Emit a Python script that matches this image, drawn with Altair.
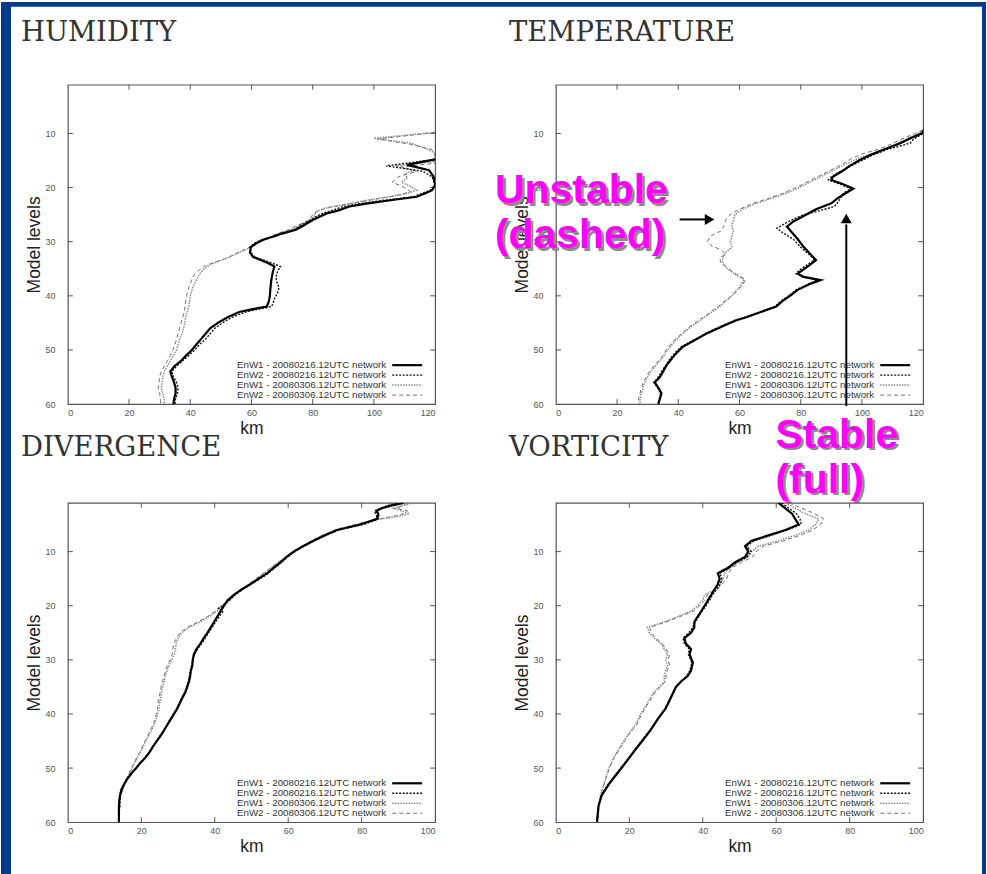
import altair as alt
import pandas as pd

# ---------------- data ----------------
SERIES = ["EnW1 - 20080216.12UTC network", "EnW2 - 20080216.12UTC network",
          "EnW1 - 20080306.12UTC network", "EnW2 - 20080306.12UTC network"]
TITLES = ["HUMIDITY", "TEMPERATURE", "DIVERGENCE", "VORTICITY"]
X_MAX = [120, 120, 100, 100]
X_TICKS_120 = [0, 20, 40, 60, 80, 100, 120]
X_TICKS_100 = [0, 20, 40, 60, 80, 100]
Y_TICKS = [10, 20, 30, 40, 50, 60]

# (model level, km)
HUM_W1_0216 = [(14.8,120),(15.8,110.8),(16.8,118),(18,119.5),(19.5,120),(20.5,119),(21,117),(21.7,114),(22.3,106),(23,97),(23.5,92),(24.3,88),(24.8,84.5),(26,80),(27,77),(27.8,74.5),(28.5,70),(29,67.5),(29.6,64),(30.3,61.5),(31,59.8),(32,59.5),(32.8,60.5),(33.4,63),(34,65.5),(34.6,67.5),(35.5,67),(37,66.5),(38.5,66.2),(40,66),(41,65.7),(42,65),(42.5,60),(43,56),(44,52),(45,49),(46,46.5),(47,45),(48,43.5),(49,42),(50,40.5),(51,38.7),(52,37),(53,34.8),(54,33.5),(55,34),(56,34.7),(57,35.2),(58,35.2),(59,34.7),(60,34.5)]
HUM_W2_0216 = [(14.8,120),(16,104),(17,116),(18,119),(19.5,120),(20.5,118.5),(21,116),(21.7,113),(22.3,104),(23,95),(23.5,90),(24.3,86),(24.8,83),(26,79),(27,76),(27.8,74),(28.5,69.5),(29,67),(29.6,63.5),(30.3,61),(31,59.5),(32,59.8),(32.8,61),(33.4,64),(34,67),(34.6,69.5),(35.5,68.5),(36.5,68),(37.5,68.3),(38.5,69),(39.5,68.5),(40.5,67.5),(41.5,67),(42,66.5),(42.5,62),(43,58),(44,53.5),(45,50.5),(46,48),(47,46.5),(48,45),(49,43),(50,41.5),(51,39.5),(52,37.5),(53,35.5),(54,34),(55,34.5),(56,35.5),(57,36),(58,35.8),(59,35.2),(60,35)]
HUM_W1_0306 = [(9.8,120),(10.9,100),(11.8,112),(12.8,117),(13.6,120),(15.2,120),(16,107),(16.8,113),(17.5,110),(18.2,111),(19,109),(19.8,112),(20.5,114),(21.2,110),(21.8,104),(22.5,96),(23.2,90),(23.8,84),(24.5,81),(25.2,80.5),(26,80),(27,76),(27.8,73),(28.5,69),(29.2,66),(30,63),(30.8,60.5),(31.5,58),(32,56),(32.8,53),(33.5,50),(34.2,46.5),(35,44.5),(36,43),(37,42),(38,41.2),(39,40.5),(40,40),(41,39.8),(42,39.5),(43,39),(44,38.5),(45,38.2),(46,37.8),(47,37.3),(48,36.5),(49,36),(50,35.5),(51,34.5),(52,33.5),(53,32.5),(54,31.5),(55,31),(56,30.8),(57,30.5),(58,31),(59,31.5),(60,31.5)]
HUM_W2_0306 = [(9.8,120),(10.6,108),(11,101),(12,112),(13,119),(14.2,120),(15.5,120),(16.2,109),(17,114),(18,108),(19,106),(20,110),(20.8,112),(21.5,107),(22.2,100),(23,92),(23.6,86),(24.2,82),(25,80),(26,79),(27,75),(27.8,72),(28.6,68),(29.4,65),(30.2,62),(31,59.5),(31.6,57),(32.2,55),(33,52),(33.7,48.5),(34.4,45),(35.2,43),(36,41.5),(37,40.5),(38,39.8),(39,39.2),(40,38.8),(41,38.5),(42,38.3),(43,38),(44,37.5),(45,37),(46,36.5),(47,36),(48,35.5),(49,35),(50,34.3),(51,33.5),(52,32.5),(53,31.5),(54,30.5),(55,30),(56,29.8),(57,29.5),(58,30),(59,30.2),(60,30.3)]

TMP_W1_0216 = [(9.5,120),(10,119.5),(11,115.5),(11.8,112.5),(13,107),(14,102.7),(15,99),(16,96),(17,93.5),(18,90.5),(18.6,90),(19.3,93.5),(20.2,97.2),(21.1,94.5),(22,92),(22.9,90),(24,85),(25.4,80.5),(26.3,77.5),(27.2,75.5),(28.2,77),(29.5,79),(31,81),(32.5,83.5),(33.4,85),(34.3,83),(35.3,80.5),(35.9,79),(36.5,81),(37.1,86.5),(37.7,83.5),(38.9,79),(40,76.5),(41,74),(42,72),(43,67),(44,62),(44.5,59),(45.5,55),(46.9,49.5),(48,46),(49.4,41.5),(50.5,39.5),(51.5,38),(52.8,36.2),(54,35),(55,34),(56,32.3),(57,33.5),(58,34.5),(59,34),(60,33.5)]
TMP_W2_0216 = [(9.5,120),(10,120),(11,117),(11.8,115.8),(13,108),(14,103.5),(15,100),(16,96.5),(17,93),(18,90),(18.6,89),(19.3,92.5),(20.2,96.5),(21,94),(22,93),(22.8,92),(23.5,91),(24.3,86),(25.2,80),(26.3,76),(27.5,72.2),(28.3,74),(29.5,77.5),(31,80),(32.5,83),(33.4,84.5),(34.3,82),(35.3,79.5),(35.9,78.5),(36.5,80.5),(37.1,85.5),(37.7,83),(38.9,78.5),(40,76),(41,73.5),(42,71.5),(43,66.5),(44,61.5),(44.5,58.5),(45.5,54.5),(46.9,49),(48,45.5),(49.4,41),(50.5,39),(51.5,37.5),(52.8,36),(54,34.5),(55,33.5),(56,32),(57,33.3),(58,34.2),(59,33.8),(60,33.3)]
TMP_W1_0306 = [(9.3,120),(10,118.5),(11,114.5),(12,111),(13,107),(13.8,103),(14.5,99),(15.2,96.5),(16,93.5),(17,90),(18,86.5),(19,83),(20,79.5),(21,75.5),(22,70.5),(23,65),(24,61),(25,58.5),(26,58),(27,57.5),(28,58),(29,57.5),(30,57),(31,57.5),(32,55.5),(33,54.5),(34,54.5),(35,56),(36,58.5),(37,61.5),(38,60.5),(39,59),(40,57.5),(41,55.5),(42,53.5),(43,51),(44,48.5),(45,46),(46,43.5),(47,41.5),(48,39.5),(49,38),(50,36.5),(51,35.5),(52,34),(53,32.5),(54,31),(55,30),(56,29),(57,28.5),(58,28),(59,27.5),(60,27.5)]
TMP_W2_0306 = [(9.3,120),(10,117.5),(11,113),(12,109.5),(13,105),(13.8,100),(14.5,97),(15.2,95),(16,92.5),(17,89),(18,85.5),(19,82),(20,78.5),(21,74.5),(22,69.5),(23,64),(24,60),(25,57),(26,55.5),(27,55),(28,54),(29,50.5),(30,49.5),(30.8,51),(31.5,54),(32.3,55.5),(33,53.5),(34,54),(35,56.5),(36,59),(37,62),(38,61),(39,59.5),(40,57.5),(41,55),(42,53),(43,50.5),(44,48),(45,45.5),(46,43),(47,41),(48,39),(49,37.5),(50,36),(51,35),(52,33.5),(53,32),(54,30.5),(55,29.5),(56,28.5),(57,28),(58,27.5),(59,27),(60,27)]

DIV_W1_0216 = [(1,91.4),(1.5,88),(2,85.5),(2.5,84),(3,84.5),(3.5,84.5),(4,84),(5,79.6),(6,73.3),(7,70),(8,66.9),(9,64),(10,61.5),(11,59.5),(12,57.9),(13,56),(14,54.3),(15,52),(16,49.7),(17,47.3),(18,45.2),(19,43.5),(20,42.5),(21,41.6),(22,40.7),(23,39.8),(24,38.9),(25,38),(26,37),(27,36.1),(28,35),(29,34.3),(30,34),(31,33.9),(32,33.5),(33,33.3),(34,33),(35,32.5),(36,32),(37,31.2),(38,30.5),(39,29.8),(40,28.9),(41,28),(42,27.1),(43,26.2),(44,25.3),(45,24.2),(46,23.2),(47,22.3),(48,21.2),(49,19.8),(50,18.6),(51,17.3),(52,16.2),(53,15.3),(54,14.6),(55,14.2),(56,14),(57,13.9),(58,13.9),(59,13.9),(60,13.9)]
DIV_W2_0216 = [(1,89.5),(1.5,87),(2,85),(2.5,83.5),(3,83.8),(4,84.5),(5,80.5),(6,73.8),(7,70.3),(8,67.2),(9,64.4),(10,61.8),(11,59.8),(12,58.2),(13,56.3),(14,54.6),(15,52.4),(16,50),(17,47.6),(18,45.5),(19,44),(20,42),(20.5,41),(21,42.3),(22,41.2),(23,40.2),(24,39.3),(25,38.3),(26,37.4),(27,36.4),(28,35.3),(29,34.5),(30,34.1),(31,33.7),(32,33.3),(33,33.1),(34,32.8),(35,32.3),(36,31.8),(37,31),(38,30.3),(39,29.6),(40,28.7),(41,27.8),(42,27),(43,26.1),(44,25.1),(45,24.1),(46,23.1),(47,22.2),(48,21.1),(49,19.7),(50,18.5),(51,17.2),(52,16.1),(53,15.2),(54,14.5),(55,14.2),(56,14.2),(57,14.2),(58,14),(59,13.9),(60,13.9)]
DIV_W1_0306 = [(1,94),(2,88.7),(3,93),(3.5,90),(4,85),(5,78.7),(6,73),(7,69.5),(8,66.5),(9,64),(10,61.5),(11,59.5),(12,57.5),(13,55.5),(14,53.5),(15,51.5),(16,49.5),(17,47.5),(18,45.5),(19,44),(20,42.5),(21,40.7),(22,38.5),(23,36),(24,33),(25,31),(26,30),(27,29.5),(28,29.3),(29,29),(30,28.3),(31,27.5),(32,27),(33,26.5),(34,26.2),(35,25.8),(36,25.5),(37,25.3),(38,25),(39,24.8),(40,24.5),(41,24),(42,23.5),(43,22.8),(44,22),(45,21.2),(46,20.5),(47,19.8),(48,19),(49,18.2),(50,17.5),(51,16.8),(52,16),(53,15.5),(54,15),(55,14.5),(56,14.2),(57,14),(58,14),(59,13.9),(60,13.9)]
DIV_W2_0306 = [(1,92.5),(2,89.5),(2.5,92.5),(3,91.5),(3.5,88.5),(4,84.5),(5,78.2),(6,72.7),(7,69.2),(8,66.3),(9,63.8),(10,61.2),(11,59.2),(12,57.2),(13,55.2),(14,53.2),(15,51.2),(16,49.2),(17,47.2),(18,45.2),(19,43.6),(20,42),(21,40.2),(22,38),(23,35.4),(24,32.5),(25,30.5),(26,29.6),(27,28.8),(28,28.6),(29,28.4),(30,27.8),(31,27.1),(32,26.6),(33,26.2),(34,25.8),(35,25.4),(36,25.1),(37,24.9),(38,24.6),(39,24.4),(40,24.1),(41,23.7),(42,23.2),(43,22.5),(44,21.8),(45,21),(46,20.3),(47,19.6),(48,18.8),(49,18),(50,17.3),(51,16.6),(52,15.9),(53,15.4),(54,14.9),(55,14.4),(56,14.1),(57,13.9),(58,13.9),(59,13.8),(60,13.8)]

VOR_W1_0216 = [(1,60.6),(2,62.5),(3,64.3),(4,65.2),(5,66.1),(6,62.5),(7,57.9),(8,53.3),(9,51.5),(10,52.4),(11,51.5),(12,48.7),(13,46.9),(14,44.1),(15,44.6),(16,44.1),(17,43.2),(18,42.3),(19,41.4),(20,40.5),(21,39.6),(22,38.6),(23,37.7),(24,37.7),(25,36.8),(26,35),(27,35.4),(28,36.8),(29,36.4),(30.5,37.3),(32,36.8),(33,35.9),(34,34.1),(35,32.7),(37,31.3),(39,29.9),(41,27.7),(43,25.8),(45,23.5),(47,21.2),(49,19),(51,16.7),(53,14.4),(55,12.5),(57,11.6),(60,11.2)]
VOR_W2_0216 = [(1,61.5),(2,63.5),(3,65.5),(4,66.5),(5,66.8),(6,63),(7,58.5),(8,54),(9,52),(10,53.2),(11,52),(12,49.2),(13,47.3),(14,44.6),(15,45.2),(16,44.8),(17,43.8),(18,42.6),(19,41.8),(20,40.9),(21,39.8),(22,38.9),(23,37.9),(24,37.3),(25,36.2),(26,34.6),(27,35),(28,36.3),(29,36.1),(30.5,37),(32,36.5),(33,35.6),(34,34),(35,32.6),(37,31.2),(39,29.7),(41,27.6),(43,25.6),(45,23.3),(47,21),(49,18.8),(51,16.5),(53,14.2),(55,12.4),(57,11.6),(60,11.2)]
VOR_W1_0306 = [(1,62.5),(2,65.2),(3,67.9),(4,71.6),(5,70.7),(6,68.9),(7,65.2),(8,60.6),(9,55.1),(10,53.3),(11,52.4),(12,49.6),(13,47.3),(14,46),(15,45.5),(16,44.6),(17,43.2),(18,40.5),(19,40),(20,38.6),(21,36.8),(22,33.2),(23,29.5),(24,24.9),(25,25.4),(26,26.7),(27,28.6),(28,29.5),(29,30.4),(30,29.9),(31,30.4),(32,29.9),(33,29.5),(34,29.5),(35,28.1),(36,26.7),(38,24.9),(40,23.1),(42,21.7),(44,19.4),(46,17.6),(48,15.8),(50,14.4),(52,13.5),(55,12.1),(60,11.2)]
VOR_W2_0306 = [(1,63.5),(2,67),(3,70.5),(4,73),(5,72),(6,70),(7,66.5),(8,62),(9,56.5),(10,54.5),(11,53.5),(12,50.5),(13,48),(14,47),(15,46.5),(16,45.3),(17,43.8),(18,41.2),(19,40.6),(20,39.2),(21,37.5),(22,33.8),(23,30),(24,25.5),(25,26),(26,27.3),(27,29),(28,30),(29,31),(30,30.5),(31,31),(32,30.3),(33,30),(34,29.8),(35,28.5),(36,27),(38,25.2),(40,23.4),(42,22),(44,19.7),(46,17.8),(48,16),(50,14.6),(52,13.6),(55,12.2),(60,11.3)]

PANEL_DATA = [
    [HUM_W1_0216, HUM_W2_0216, HUM_W1_0306, HUM_W2_0306],
    [TMP_W1_0216, TMP_W2_0216, TMP_W1_0306, TMP_W2_0306],
    [DIV_W1_0216, DIV_W2_0216, DIV_W1_0306, DIV_W2_0306],
    [VOR_W1_0216, VOR_W2_0216, VOR_W1_0306, VOR_W2_0306],
]

# ---------------- styles ----------------
W, H = 368, 320
BLUE = "#003C8C"
MAGENTA = "#FF00FF"
SANS = "Liberation Sans"
SERIF = "DejaVu Serif"
STYLES = [
    dict(color="#000000", strokeWidth=2.2),
    dict(color="#111111", strokeWidth=1.4, strokeDash=[2, 1.5]),
    dict(color="#8a8a8a", strokeWidth=1.5, strokeDash=[1.5, 1.2]),
    dict(color="#6e6e6e", strokeWidth=1.0, strokeDash=[4, 3]),
]
ONE = pd.DataFrame({"k": [0]})


def deco_rect(x, x2, y, y2, color):
    return alt.Chart(ONE).mark_rect(color=color, clip=False).encode(
        x=alt.value(x), x2=alt.value(x2), y=alt.value(y), y2=alt.value(y2))


def label(text, x, y, **kw):
    return alt.Chart(pd.DataFrame({"t": [text]})).mark_text(clip=False, **kw).encode(
        text="t:N", x=alt.value(x), y=alt.value(y))


def panel(i):
    xmax = X_MAX[i]
    xticks = X_TICKS_120 if xmax == 120 else X_TICKS_100
    xs = alt.Scale(domain=[0, xmax], nice=False, zero=False)
    ys = alt.Scale(domain=[1, 60], nice=False, zero=False, reverse=True)
    xaxis = alt.Axis(values=xticks, title="km", grid=False, domain=False, ticks=False, tickSize=0,
                     labelPadding=4, labelFontSize=9, labelFont=SANS, labelColor="#555555",
                     titleFont=SANS, titleFontSize=17.5, titleFontWeight="normal", titleColor="#222222",
                     titleX=W / 2, titleY=29, titleBaseline="alphabetic", titleAlign="center")
    yaxis = alt.Axis(values=Y_TICKS, title="Model levels", grid=False, domain=False, ticks=False, tickSize=0,
                     labelPadding=13, labelFontSize=9, labelFont=SANS, labelColor="#555555",
                     titleFont=SANS, titleFontSize=17.5, titleFontWeight="normal", titleColor="#222222",
                     titleX=-28, titleY=H / 2, titleAngle=270, titleBaseline="alphabetic", titleAlign="center")
    X = lambda: alt.X("km:Q", scale=xs, axis=xaxis)
    Y = lambda: alt.Y("level:Q", scale=ys, axis=yaxis)

    layers = []
    # inward ticks (gnuplot style) on all four sides
    xt = pd.DataFrame({"km": xticks[1:-1]})
    yt = pd.DataFrame({"level": Y_TICKS[:-1]})
    tick_style = dict(color="#555555", strokeWidth=1)
    layers.append(alt.Chart(xt).mark_rule(**tick_style).encode(x=X(), y=alt.value(H), y2=alt.value(H - 5)))
    layers.append(alt.Chart(xt).mark_rule(**tick_style).encode(x=X(), y=alt.value(0), y2=alt.value(5)))
    layers.append(alt.Chart(yt).mark_rule(**tick_style).encode(y=Y(), x=alt.value(0), x2=alt.value(5)))
    layers.append(alt.Chart(yt).mark_rule(**tick_style).encode(y=Y(), x=alt.value(W - 5), x2=alt.value(W)))

    # series (drawn gray first, black on top)
    for k in [3, 2, 1, 0]:
        df = pd.DataFrame(PANEL_DATA[i][k], columns=["level", "km"])
        layers.append(alt.Chart(df).mark_line(clip=True, **STYLES[k]).encode(
            x=X(), y=Y(), order="level:Q"))

    # gnuplot-like key, bottom right inside the frame
    for k, name in enumerate(SERIES):
        yy = H - 39 + 10 * k
        layers.append(label(name, 319, yy, align="right", baseline="middle", font=SANS,
                            fontSize=9.8, color="#333333"))
        layers.append(alt.Chart(ONE).mark_rule(clip=False, **STYLES[k]).encode(
            x=alt.value(325), x2=alt.value(355), y=alt.value(yy)))

    # panel heading
    ty = -44 if i < 2 else -47
    layers.append(label(TITLES[i], -47, ty, align="left", baseline="alphabetic", font=SERIF,
                        fontSize=27.5, color="#333333"))

    # slide border (dark blue frame)
    if i == 0:
        layers.append(deco_rect(-67, -57, -83, 874 - 83, BLUE))
        layers.append(deco_rect(-67, 987 - 67, -83, -78, BLUE))
    if i == 1:
        layers.append(deco_rect(983 - 556, 987 - 556, -83, 874 - 83, BLUE))
        # annotations
        ann = dict(align="left", baseline="alphabetic", font=SANS, fontSize=41, fontWeight="bold")
        for txt, x, y in [("Unstable", -61, 119), ("(dashed)", -61, 164),
                          ("Stable", 220, 364), ("(full)", 220, 409)]:
            layers.append(label(txt, x + 2.5, y + 2.5, color="#8c8c8c", **ann))
            layers.append(label(txt, x, y, color=MAGENTA, **ann))
        layers.append(alt.Chart(ONE).mark_rule(color="black", strokeWidth=2, clip=False).encode(
            x=alt.value(124), x2=alt.value(150), y=alt.value(135)))
        layers.append(alt.Chart(ONE).mark_point(shape="triangle-right", filled=True, color="black",
                                                size=120, opacity=1, clip=False).encode(
            x=alt.value(154), y=alt.value(135)))
        layers.append(alt.Chart(ONE).mark_rule(color="black", strokeWidth=2, clip=False).encode(
            x=alt.value(291), y=alt.value(322), y2=alt.value(140)))
        layers.append(alt.Chart(ONE).mark_point(shape="triangle-up", filled=True, color="black",
                                                size=120, opacity=1, clip=False).encode(
            x=alt.value(291), y=alt.value(134)))

    return alt.layer(*layers).properties(width=W, height=H)


chart = alt.concat(
    panel(0), panel(1), panel(2), panel(3),
    columns=2,
    spacing={"row": 99, "column": 121},
    bounds="flush",
).properties(
    padding=0,
    background="white",
).configure_view(
    stroke="#555555", strokeWidth=1.2
)

chart.save("out.html", embed_options={"renderer": "svg", "actions": False})
